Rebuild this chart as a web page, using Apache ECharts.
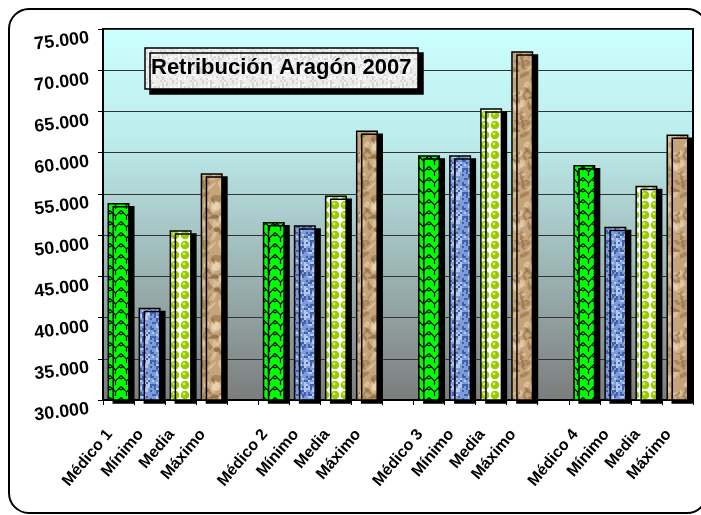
<!DOCTYPE html>
<html>
<head>
<meta charset="utf-8">
<script src="https://cdn.jsdelivr.net/npm/echarts@6/dist/echarts.min.js"></script>
<style>
  html, body { margin: 0; padding: 0; background: #fff; }
  #chart { width: 701px; height: 515px; }
</style>
</head>
<body>
<div id="chart"></div>
<script>
// categories, one empty slot between the doctors
const categories = ['Médico 1', 'Mínimo', 'Media', 'Máximo', '',
  'Médico 2', 'Mínimo', 'Media', 'Máximo', '',
  'Médico 3', 'Mínimo', 'Media', 'Máximo', '',
  'Médico 4', 'Mínimo', 'Media', 'Máximo'];

// one value per doctor group
const medico = [53900, 51600, 59700, 58500];
const minimo = [41200, 51200, 59700, 51000];
const media  = [50600, 54800, 65400, 56000];
const maximo = [57500, 62700, 72300, 62200];

const titleText = 'Retribución Aragón 2007';

// spread a group array onto the 19 slots
function spread(values, offset) {
  const out = categories.map(() => '-');
  values.forEach((v, g) => { out[g * 5 + offset] = v; });
  return out;
}

// --- fill textures (style only) ---
let seed = 12345;
function rnd() { seed = (seed * 16807) % 2147483647; return seed / 2147483647; }

function makeTile(w, h, draw) {
  const c = document.createElement('canvas');
  c.width = w; c.height = h;
  draw(c.getContext('2d'), w, h);
  return c;
}

const greenTile = makeTile(11, 11, (ctx, w, h) => {
  ctx.fillStyle = '#00ff00';
  ctx.fillRect(0, 0, w, h);
  ctx.strokeStyle = '#000';
  ctx.lineWidth = 1.2;
  ctx.beginPath();
  ctx.moveTo(0, 1.5); ctx.lineTo(5.5, 7); ctx.lineTo(11, 1.5);
  ctx.moveTo(5.5, 7); ctx.lineTo(5.5, 11);
  ctx.moveTo(0, 5); ctx.lineTo(2, 3.5);
  ctx.moveTo(11, 5); ctx.lineTo(9, 3.5);
  ctx.stroke();
});

const blueTile = makeTile(24, 24, (ctx, w, h) => {
  ctx.fillStyle = '#7d9cd8';
  ctx.fillRect(0, 0, w, h);
  for (let y = 0; y < h; y += 2) {
    for (let x = 0; x < w; x += 2) {
      const r = rnd();
      if (r < 0.25) { ctx.fillStyle = '#4062aa'; ctx.fillRect(x, y, 2, 2); }
      else if (r > 0.78) { ctx.fillStyle = '#b4caf2'; ctx.fillRect(x, y, 2, 2); }
    }
  }
});

const mediaTile = makeTile(10, 10, (ctx, w, h) => {
  ctx.fillStyle = '#ffffff';
  ctx.fillRect(0, 0, w, h);
  ctx.fillStyle = '#99cc00';
  ctx.beginPath(); ctx.arc(5, 5, 4.3, 0, Math.PI * 2); ctx.fill();
  ctx.fillStyle = '#d6ef7a';
  ctx.beginPath(); ctx.arc(4, 3.8, 1.4, 0, Math.PI * 2); ctx.fill();
});

const brownTile = makeTile(40, 60, (ctx, w, h) => {
  ctx.fillStyle = '#c6a47a';
  ctx.fillRect(0, 0, w, h);
  for (let i = 0; i < 60; i++) {
    const x = rnd() * w, y = rnd() * h;
    ctx.fillStyle = rnd() < 0.5 ? 'rgba(130,95,55,0.45)' : 'rgba(235,215,185,0.5)';
    ctx.beginPath();
    ctx.ellipse(x, y, 2 + rnd() * 5, 1 + rnd() * 3, rnd() * Math.PI, 0, Math.PI * 2);
    ctx.fill();
  }
});

const paperTile = makeTile(30, 30, (ctx, w, h) => {
  ctx.fillStyle = '#ececec';
  ctx.fillRect(0, 0, w, h);
  for (let y = 0; y < h; y += 2) {
    for (let x = 0; x < w; x += 2) {
      const r = rnd();
      if (r < 0.2) { ctx.fillStyle = '#d6d6d6'; ctx.fillRect(x, y, 2, 2); }
      else if (r > 0.8) { ctx.fillStyle = '#fafafa'; ctx.fillRect(x, y, 2, 2); }
    }
  }
});

function pat(tile) { return { image: tile, repeat: 'repeat' }; }

function barSeries(name, values, offset, tile) {
  return {
    name: name,
    type: 'bar',
    data: spread(values, offset),
    barWidth: 22,
    barGap: '-100%',
    itemStyle: {
      color: pat(tile),
      borderColor: '#000',
      borderWidth: 1.5,
      shadowColor: '#000',
      shadowBlur: 0,
      shadowOffsetX: 5,
      shadowOffsetY: 3
    }
  };
}

const chart = echarts.init(document.getElementById('chart'));

const option = {
  animation: false,
  backgroundColor: '#fff',
  title: {
    text: titleText,
    left: 151,
    top: 57,
    padding: 0,
    z: 20,
    textStyle: { fontFamily: 'Liberation Sans, Arial', fontWeight: 'bold', fontSize: 22, color: '#000' }
  },
  graphic: [
    {
      type: 'rect',
      silent: true,
      z: -10,
      shape: { x: 9, y: 9, width: 698, height: 504, r: 20 },
      style: { fill: 'none', stroke: '#000', lineWidth: 2 }
    },
    {
      type: 'rect',
      silent: true,
      z: 10,
      shape: { x: 145, y: 48, width: 273, height: 41 },
      style: {
        fill: pat(paperTile), stroke: '#000', lineWidth: 1.5,
        shadowColor: '#000', shadowOffsetX: 5, shadowOffsetY: 5, shadowBlur: 0
      }
    }
  ],
  grid: {
    left: 103,
    right: 8,
    top: 29,
    bottom: 115,
    show: true,
    borderColor: '#000',
    borderWidth: 2,
    backgroundColor: {
      type: 'linear', x: 0, y: 0, x2: 0, y2: 1,
      colorStops: [
        { offset: 0, color: '#ccffff' },
        { offset: 0.3, color: '#bdecec' },
        { offset: 1, color: '#7c7c7c' }
      ]
    }
  },
  xAxis: {
    type: 'category',
    data: categories,
    axisLine: { lineStyle: { color: '#000', width: 2 } },
    axisTick: { show: true, length: 5, lineStyle: { color: '#000' } },
    axisLabel: {
      interval: 0,
      rotate: 50,
      margin: 21,
      padding: [0, 14, 0, 0],
      color: '#000',
      fontFamily: 'Liberation Sans, Arial',
      fontWeight: 'bold',
      fontSize: 16
    }
  },
  yAxis: {
    type: 'value',
    min: 30000,
    max: 75000,
    interval: 5000,
    axisLine: { show: true, lineStyle: { color: '#000', width: 2 } },
    axisTick: { show: true, length: 5, lineStyle: { color: '#000' } },
    splitLine: { lineStyle: { color: '#333', width: 1 } },
    axisLabel: {
      margin: 15,
      rotate: 7,
      verticalAlign: 'top',
      color: '#000',
      fontFamily: 'Liberation Sans, Arial',
      fontWeight: 'bold',
      fontSize: 18,
      formatter: v => Math.floor(v / 1000) + '.' + String(v % 1000).padStart(3, '0')
    }
  },
  series: [
    barSeries('Médico', medico, 0, greenTile),
    barSeries('Mínimo', minimo, 1, blueTile),
    barSeries('Media', media, 2, mediaTile),
    barSeries('Máximo', maximo, 3, brownTile)
  ]
};

chart.setOption(option);
</script>
</body>
</html>
